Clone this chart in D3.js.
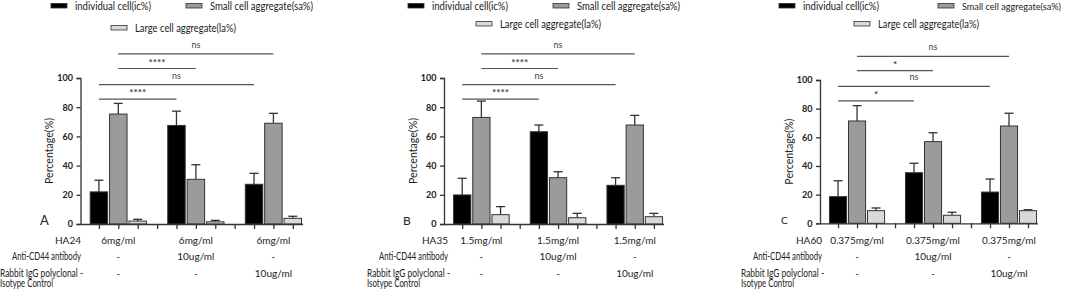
<!DOCTYPE html>
<html>
<head>
    <meta charset="utf-8">
    <title>Cell aggregates</title>
    <script src="https://d3js.org/d3.v7.min.js"></script>
    <style>
        body { margin: 0; background: #fff; }
        text { font-family: Lato, "Open Sans", sans-serif; fill: #222; }
    </style>
</head>
<body>
    <div id="chart"></div>
    <script>
        // series names (legend)
        var seriesNames = ["individual cell(ic%)", "Small cell aggregate(sa%)", "Large cell aggregate(la%)"];
        var seriesColors = ["#000000", "#9b9b9b", "#d9d9d9"];

        // panels
        var panelLetters = ["A", "B", "C"];
        var haNames = ["HA24", "HA35", "HA60"];
        var haDose = ["6mg/ml", "1.5mg/ml", "0.375mg/ml"];
        var antiCD44 = ["-", "10ug/ml", "-"];
        var rabbitIgG = ["-", "-", "10ug/ml"];
        var rowNames = ["Anti-CD44 antibody", "Rabbit IgG polyclonal -", "Isotype Control"];

        // means (one row per panel, one value per group)
        var icMean = [[22, 67.5, 27.2], [19.9, 63.2, 26.5], [18.6, 35.3, 21.8]];
        var saMean = [[75.3, 30.6, 69], [73, 31.7, 67.8], [71.4, 57, 67.9]];
        var laMean = [[2, 1.5, 3.9], [6.4, 4.3, 5], [8.8, 5.6, 8.8]];
        // SD (upper error bar)
        var icSD = [[8, 9.8, 7.5], [11.4, 4.6, 5.2], [11.1, 6.6, 9.1]];
        var saSD = [[7.3, 10, 6.8], [11.2, 4.1, 6.6], [10.7, 6.2, 8.9]];
        var laSD = [[1.2, 1, 1.4], [5.5, 3, 2.3], [1.9, 2.1, 0.7]];

        // comparisons: [series, group a, group b]
        var comparisons = [[0, 0, 1], [0, 0, 2], [1, 0, 1], [1, 0, 2]];
        var sigLabels = [["****", "ns", "****", "ns"], ["****", "ns", "****", "ns"], ["*", "ns", "*", "ns"]];
        var yTicks = [0, 20, 40, 60, 80, 100];

        // layout for each panel
        var layout = [
            { ax: 80.5, xEnd: 302.5, yTop: 78, yBot: 224, leg: [51, 186, 111], leg2y: 28, letterX: 40, letterSize: 13, rowX: 81 },
            { ax: 444, xEnd: 663.5, yTop: 78, yBot: 224, leg: [408, 553, 476], leg2y: 24, letterX: 403, letterSize: 12, rowX: 448 },
            { ax: 820, xEnd: 1037.5, yTop: 80, yBot: 223.3, leg: [779, 938, 854], leg2y: 24, letterX: 781, letterSize: 10, rowX: 822 }
        ];
        var legendWidths = [76, 103, 101];
        var rowWidths = [69, 83, 53];
        var sigLevels = [85.5, 95.5, 106.5, 116.5];

        var svg = d3.select("#chart")
            .append("svg")
            .attr("width", 1065)
            .attr("height", 291);

        panelLetters.forEach(function (letter, p) {
            var L = layout[p];
            var g = svg.append("g");

            var x = d3.scaleLinear().domain([-0.95, 10.5]).range([L.ax, L.xEnd]);
            var y = d3.scaleLinear().domain([0, 100]).range([L.yBot, L.yTop]);
            var step = x(1) - x(0);
            var bw = step * 0.9;

            // legend
            var legY = [6, 6, L.leg2y];
            seriesNames.forEach(function (name, s) {
                g.append("rect")
                    .attr("x", L.leg[s]).attr("y", legY[s] - 2.6)
                    .attr("width", 16).attr("height", 4.6)
                    .style("fill", seriesColors[s])
                    .style("stroke", "#333").style("stroke-width", 0.8);
                var lw = legendWidths[s], fs = 10.5;
                // last legend entry runs up to the right edge
                if (L.leg[s] + 24 + lw > 1061) { lw = 1061 - L.leg[s] - 24; fs = 9.5; }
                g.append("text")
                    .attr("x", L.leg[s] + 24).attr("y", legY[s] + 3.8)
                    .attr("textLength", lw).attr("lengthAdjust", "spacingAndGlyphs")
                    .style("font-size", fs + "px")
                    .text(name);
            });

            // bars
            var means = [icMean[p], saMean[p], laMean[p]];
            var sds = [icSD[p], saSD[p], laSD[p]];
            var bars = [];
            for (var gi = 0; gi < 3; gi++) {
                for (var s = 0; s < 3; s++) {
                    bars.push({ slot: gi * 4 + s, s: s, mean: means[s][gi], sd: sds[s][gi] });
                }
            }

            // error bars (drawn under the bar)
            g.append("g").selectAll("line.err")
                .data(bars).enter().append("line")
                .attr("x1", function (d) { return x(d.slot); })
                .attr("x2", function (d) { return x(d.slot); })
                .attr("y1", function (d) { return y(d.mean); })
                .attr("y2", function (d) { return y(d.mean + d.sd); })
                .style("stroke", "#333").style("stroke-width", 1.3);
            g.append("g").selectAll("line.cap")
                .data(bars).enter().append("line")
                .attr("x1", function (d) { return x(d.slot) - 4.5; })
                .attr("x2", function (d) { return x(d.slot) + 4.5; })
                .attr("y1", function (d) { return y(d.mean + d.sd); })
                .attr("y2", function (d) { return y(d.mean + d.sd); })
                .style("stroke", "#333").style("stroke-width", 1.3);

            g.append("g").selectAll("rect")
                .data(bars).enter().append("rect")
                .attr("x", function (d) { return x(d.slot) - bw / 2; })
                .attr("y", function (d) { return y(d.mean); })
                .attr("width", bw)
                .attr("height", function (d) { return y(0) - y(d.mean); })
                .style("fill", function (d) { return seriesColors[d.s]; })
                .style("stroke", "#333").style("stroke-width", 1);

            // y axis
            var yAxis = g.append("g")
                .attr("transform", "translate(" + L.ax + ",0)")
                .call(d3.axisLeft(y).tickValues(yTicks).tickSize(4).tickPadding(3.5));
            yAxis.select(".domain").style("stroke", "#333").style("stroke-width", 1.3);
            yAxis.selectAll(".tick line").style("stroke", "#333").style("stroke-width", 1.3);
            yAxis.selectAll("text").style("font-family", "Lato, sans-serif")
                .style("font-weight", "bold").style("font-size", "9px").style("fill", "#222");

            // x axis
            var xAxis = g.append("g")
                .attr("transform", "translate(0," + y(0) + ")")
                .call(d3.axisBottom(x).tickValues(d3.range(0, 11)).tickSize(5).tickFormat("").tickSizeOuter(0));
            xAxis.select(".domain").style("stroke", "#333").style("stroke-width", 1.3);
            xAxis.selectAll(".tick line").style("stroke", "#333").style("stroke-width", 1.3);

            // y label
            g.append("text")
                .attr("transform", "translate(" + (L.ax - 30) + "," + ((L.yTop + L.yBot) / 2) + ") rotate(-90)")
                .attr("text-anchor", "middle")
                .attr("dominant-baseline", "middle")
                .attr("textLength", 66).attr("lengthAdjust", "spacingAndGlyphs")
                .style("font-size", "11px")
                .text("Percentage(%)");

            // panel letter
            g.append("text")
                .attr("x", L.letterX).attr("y", L.yBot - 2)
                .attr("dominant-baseline", "middle")
                .style("font-size", L.letterSize + "px")
                .text(letter);

            // significance brackets
            comparisons.forEach(function (c, k) {
                var xa = x(c[1] * 4 + c[0]), xb = x(c[2] * 4 + c[0]);
                var ly = y(sigLevels[k]);
                g.append("line")
                    .attr("x1", xa).attr("x2", xb).attr("y1", ly).attr("y2", ly)
                    .style("stroke", "#555").style("stroke-width", 1.2);
                var lab = sigLabels[p][k];
                g.append("text")
                    .attr("x", (xa + xb) / 2).attr("y", ly - (lab === "ns" ? 6 : 3))
                    .attr("text-anchor", "middle")
                    .style("font-size", lab === "ns" ? "9px" : "10px")
                    .style("font-weight", lab === "ns" ? "normal" : "bold")
                    .style("fill", "#444")
                    .text(lab);
            });

            // treatment table
            var rowY = [241, 257, 274];
            g.append("text")
                .attr("x", L.rowX).attr("y", rowY[0])
                .attr("text-anchor", "end").attr("dominant-baseline", "middle")
                .style("font-size", "10px")
                .text(haNames[p]);
            g.append("text")
                .attr("x", L.rowX).attr("y", rowY[1])
                .attr("text-anchor", "end").attr("dominant-baseline", "middle")
                .attr("textLength", rowWidths[0]).attr("lengthAdjust", "spacingAndGlyphs")
                .style("font-size", "10.5px")
                .text(rowNames[0]);
            var rabStart = L.rowX + 2 - rowWidths[1];
            g.append("text")
                .attr("x", rabStart).attr("y", rowY[2])
                .attr("dominant-baseline", "middle")
                .attr("textLength", rowWidths[1]).attr("lengthAdjust", "spacingAndGlyphs")
                .style("font-size", "10.5px")
                .text(rowNames[1]);
            g.append("text")
                .attr("x", rabStart).attr("y", 284)
                .attr("dominant-baseline", "middle")
                .attr("textLength", rowWidths[2]).attr("lengthAdjust", "spacingAndGlyphs")
                .style("font-size", "10.5px")
                .text(rowNames[2]);

            for (var gi2 = 0; gi2 < 3; gi2++) {
                var cx = x(gi2 * 4 + 1);
                var vals = [haDose[p], antiCD44[gi2], rabbitIgG[gi2]];
                vals.forEach(function (v, r) {
                    g.append("text")
                        .attr("x", cx).attr("y", rowY[r])
                        .attr("text-anchor", "middle").attr("dominant-baseline", "middle")
                        .style("font-size", "10px")
                        .text(v);
                });
            }
        });
    </script>
</body>
</html>
